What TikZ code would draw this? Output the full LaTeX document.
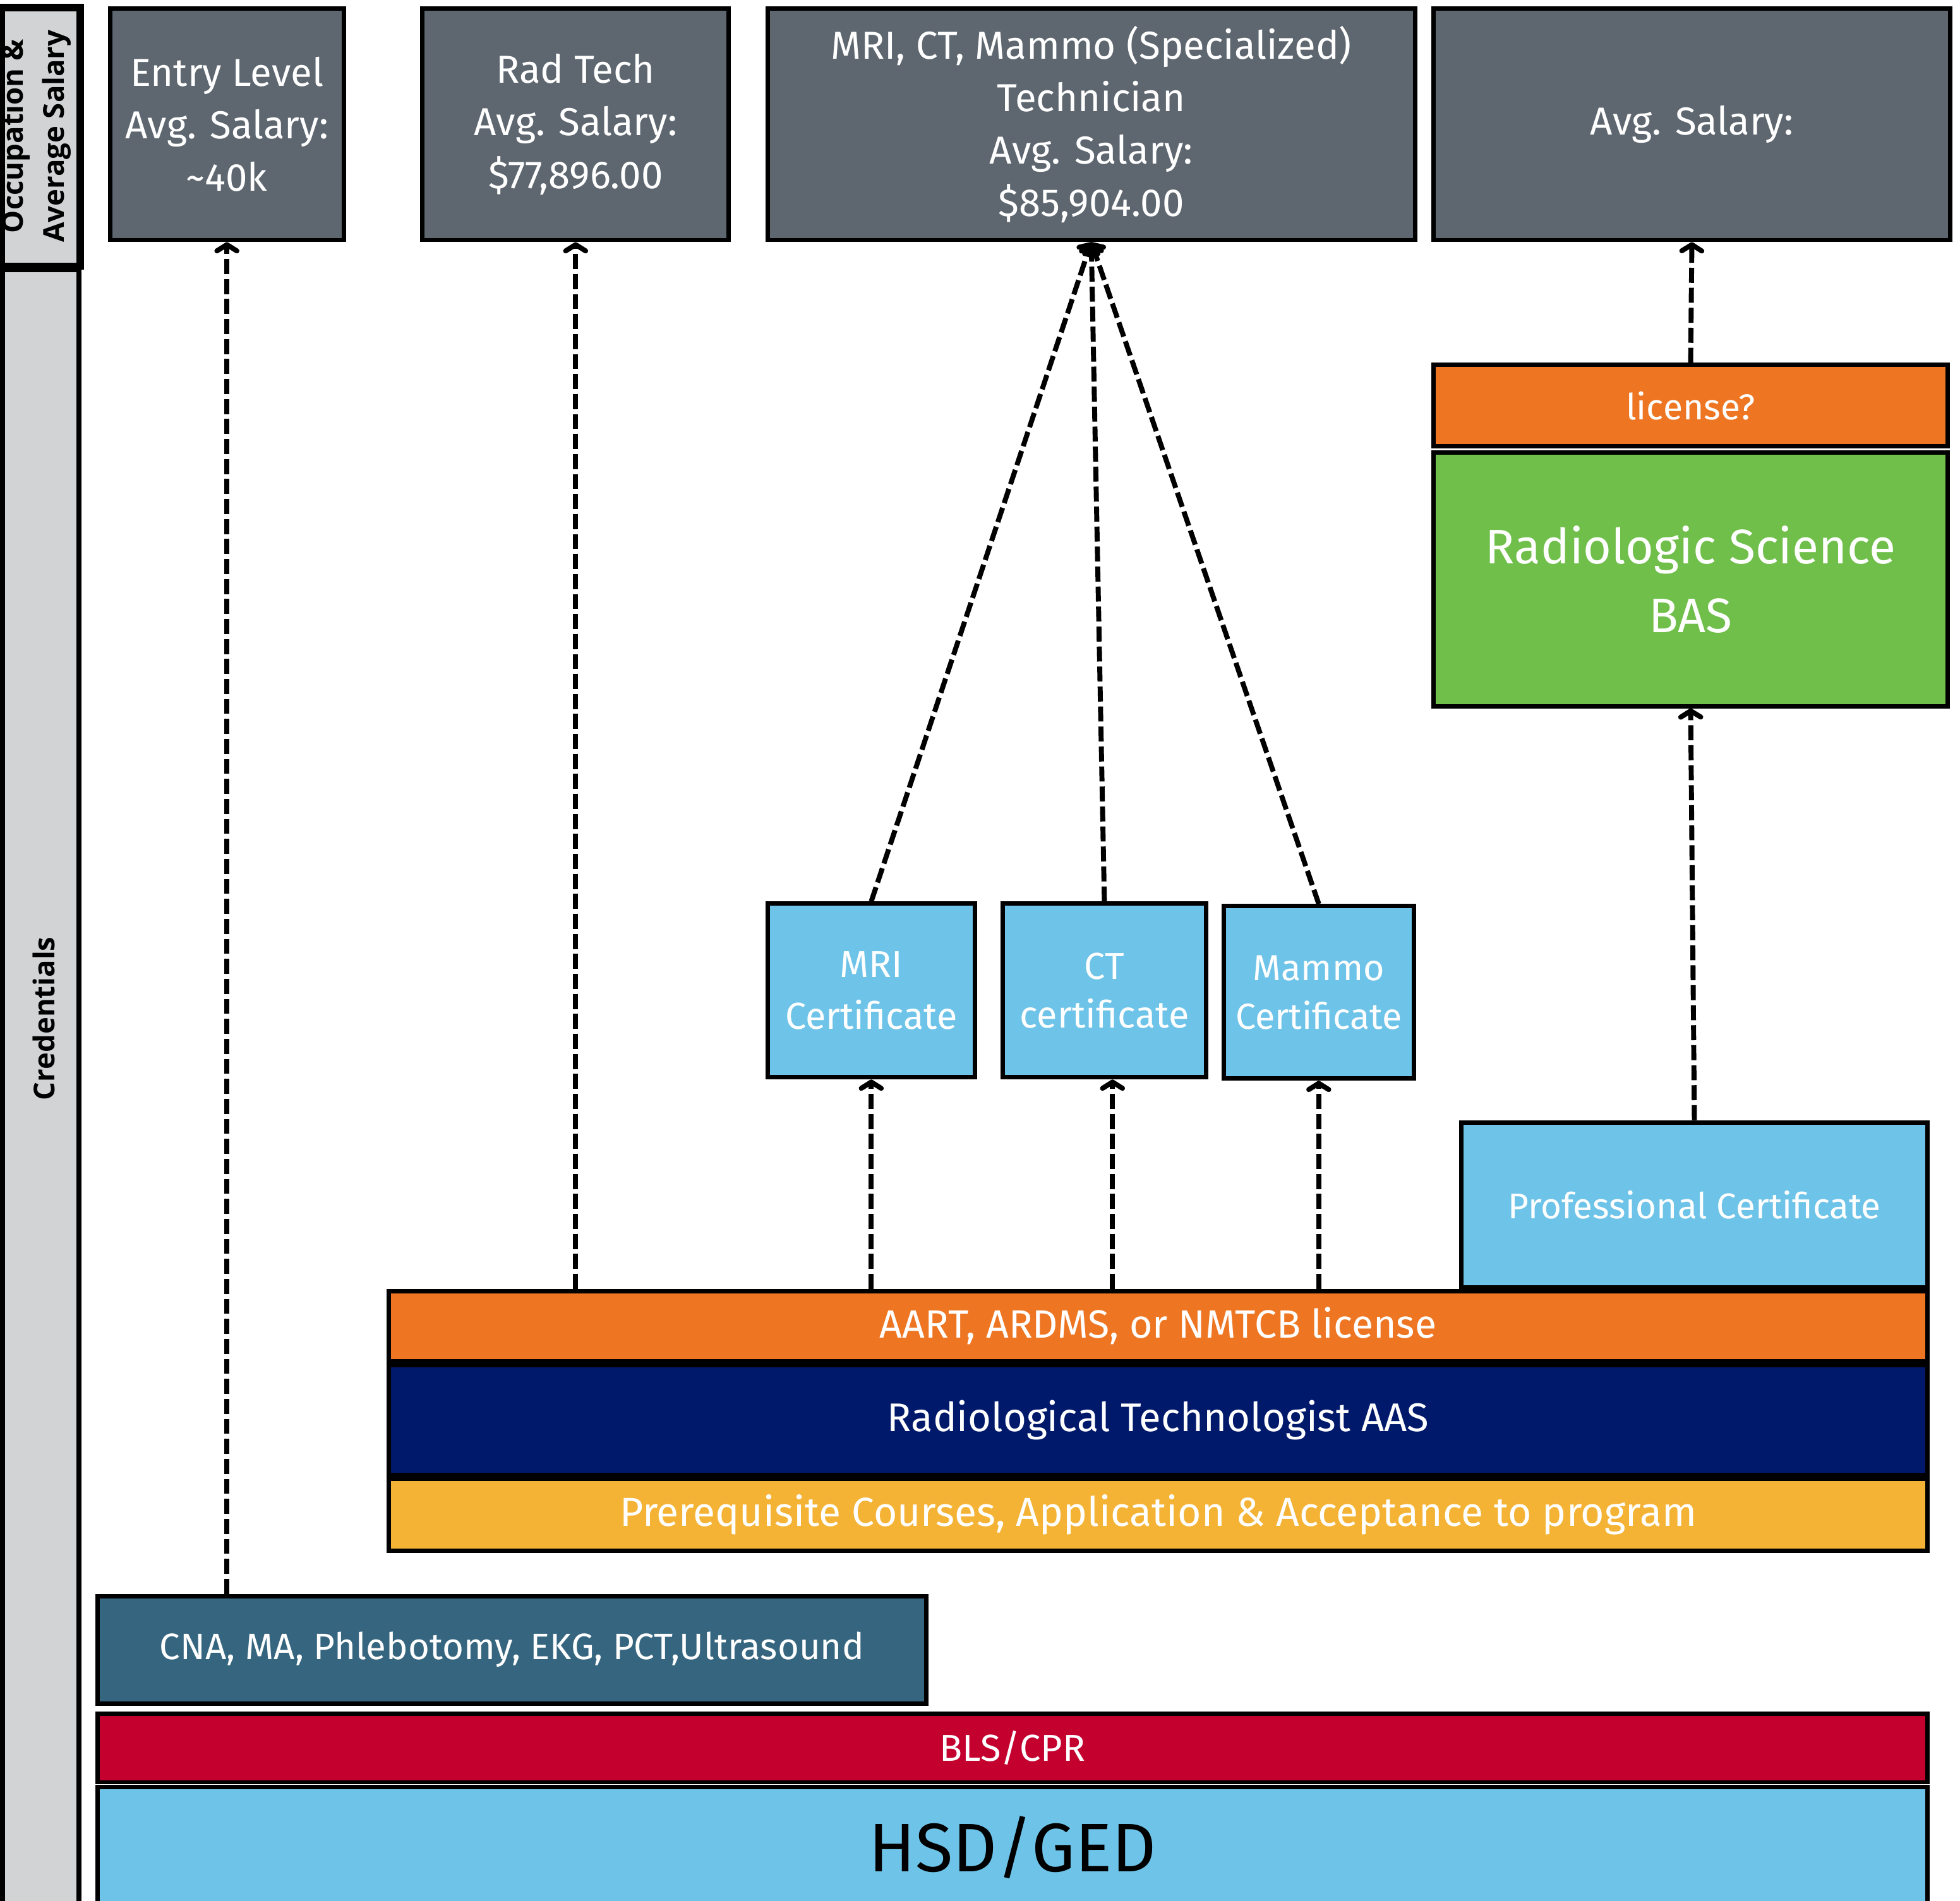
\documentclass[tikz,border=0pt]{standalone}
\usepackage{fontspec}
\setmainfont{Fira Sans}
\newfontfamily\sidefont{Open Sans}
\usetikzlibrary{arrows.meta}
\definecolor{topgray}{HTML}{5E6770}
\definecolor{sidegray}{HTML}{D1D3D4}
\definecolor{orangeC}{HTML}{EE7623}
\definecolor{greenC}{HTML}{70BF4B}
\definecolor{lightblueC}{HTML}{6EC3E8}
\definecolor{navyC}{HTML}{00196B}
\definecolor{yellowC}{HTML}{F4B335}
\definecolor{tealC}{HTML}{36667F}
\definecolor{redC}{HTML}{C4002F}
\begin{document}
\begin{tikzpicture}[x=0.5pt,y=-0.5pt,
  box/.style={draw=black, line width=1.75pt, inner sep=0pt, align=center, text=white,
    font=\fontsize{15}{21}\selectfont},
  topbox/.style={box, fill=topgray, minimum height=92.5pt, font=\fontsize{15.6}{21}\selectfont},
  sidebox/.style={draw=black, line width=2pt, fill=sidegray, inner sep=0pt, minimum width=30.5pt},
  sidetext/.style={rotate=90, align=center, font=\sidefont\bfseries\fontsize{11.5}{16.5}\selectfont},
  conn/.style={line width=2pt, dash pattern=on 6pt off 2pt,
    -{Straight Barb[length=2.5pt,width=8pt,round]}}]
\useasboundingbox (0,0) rectangle (1568,1521);

% side bar
\node[sidebox, minimum height=102.5pt] (sideTop) at (32.5,109.5) {};
\node[sidetext] (sideTopText) at (29,109) {Occupation \&\\Average Salary};
\draw[line width=2pt] (sideTop.north west) rectangle (sideTop.south east);
\node[sidebox, minimum height=662pt] (sideBot) at (32.5,878) {};
\node[sidetext] (sideBotText) at (35,815) {Credentials};

% top row
\node[topbox, minimum width=93.5pt] (entry) at (181.5,99.5)
  {Entry Level\\Avg. Salary:\\\textasciitilde40k};
\node[topbox, minimum width=122.5pt] (radtech) at (460.5,99.5)
  {Rad Tech\\Avg. Salary:\\\$77,896.00};
\node[topbox, minimum width=259pt] (spec) at (873,99.5)
  {MRI, CT, Mammo (Specialized)\\Technician\\Avg. Salary:\\\$85,904.00};
\node[topbox, minimum width=206.5pt] (bassal) at (1353.5,99.5)
  {Avg. Salary:};

% BAS
\node[box, fill=orangeC, minimum width=205.5pt, minimum height=32.5pt,
  font=\fontsize{14.4}{18}\selectfont] (lic) at (1352.5,324.5) {license?};
\node[box, fill=greenC, minimum width=205.5pt, minimum height=101.5pt,
  font=\fontsize{19.4}{27.5}\selectfont] (bas) at (1352.5,463.5) {Radiologic Science\\BAS};

% certificates
\node[box, fill=lightblueC, minimum width=83pt, minimum height=69.5pt,
  font=\fontsize{15}{20.5}\selectfont] (mri) at (697,792.5) {MRI\\Certificate};
\node[box, fill=lightblueC, minimum width=81.5pt, minimum height=69.5pt,
  font=\fontsize{15}{19.5}\selectfont] (ct) at (883.5,792.5) {CT\\certificate};
\node[box, fill=lightblueC, minimum width=76pt, minimum height=69pt,
  font=\fontsize{14.5}{19.5}\selectfont] (mammo) at (1055,794) {Mammo\\Certificate};
\node[box, fill=lightblueC, minimum width=186.5pt, minimum height=66pt,
  font=\fontsize{14.3}{18}\selectfont] (prof) at (1355.5,964) {Professional Certificate};

% AAS stack
\node[box, fill=orangeC, minimum width=615.5pt, minimum height=28pt,
  font=\fontsize{15.8}{18}\selectfont] (aart) at (926.5,1061) {AART, ARDMS, or NMTCB license};
\node[box, fill=navyC, minimum width=615.5pt, minimum height=44pt,
  font=\fontsize{16}{18}\selectfont] (aas) at (926.5,1136) {Radiological Technologist AAS};
\node[box, fill=yellowC, minimum width=615.5pt, minimum height=29pt,
  font=\fontsize{16.2}{18}\selectfont] (prereq) at (926.5,1212)
  {Prerequisite Courses, Application \& Acceptance to program};

% base
\node[box, fill=tealC, minimum width=331.5pt, minimum height=43pt,
  font=\fontsize{14.7}{18}\selectfont] (cna) at (409.5,1320)
  {CNA, MA, Phlebotomy, EKG, PCT,Ultrasound};
\node[box, fill=redC, minimum width=732pt, minimum height=27.5pt] (bls) at (810,1398.5) {BLS/CPR};
\node[box, fill=lightblueC, minimum width=732pt, minimum height=48pt, text=black,
  font=\fontsize{27.5}{30}\selectfont] (hsd) at (810,1478) {HSD/GED};

% connectors
\draw[conn] (entry.south |- cna.north) -- (entry.south);
\draw[conn] (radtech.south |- aart.north) -- (radtech.south);
\draw[conn] (mri.north) -- (spec.south);
\draw[conn] (ct.north) -- (spec.south);
\draw[conn] (mammo.north) -- (spec.south);
\draw[conn] (lic.north) -- (bassal.south);
\draw[conn] (prof.north) -- (bas.south);
\draw[conn] (mri.south |- aart.north) -- (mri.south);
\draw[conn] ([xshift=3.25pt]ct.south |- aart.north) -- ([xshift=3.25pt]ct.south);
\draw[conn] (mammo.south |- aart.north) -- (mammo.south);
\end{tikzpicture}
\end{document}
